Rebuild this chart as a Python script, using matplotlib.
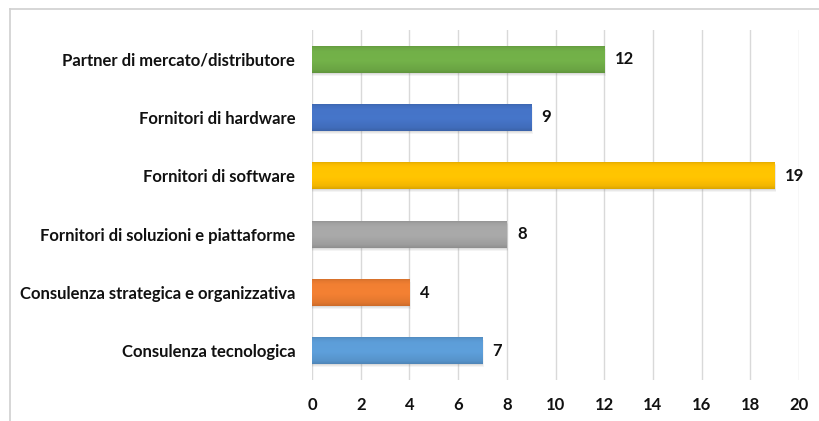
import matplotlib
matplotlib.use("Agg")
import matplotlib.pyplot as plt
import numpy as np
from matplotlib.colors import to_rgb

categories = [
    "Consulenza tecnologica",
    "Consulenza strategica e organizzativa",
    "Fornitori di soluzioni e piattaforme",
    "Fornitori di software",
    "Fornitori di hardware",
    "Partner di mercato/distributore",
]
values = [7, 4, 8, 19, 9, 12]
colors = ["#5B9BD5", "#ED7D31", "#A5A5A5", "#FFC000", "#4472C4", "#70AD47"]
x_ticks = [0, 2, 4, 6, 8, 10, 12, 14, 16, 18, 20]

plt.rcParams["font.family"] = ["Lato", "DejaVu Sans"]

fig = plt.figure(figsize=(8.19, 4.21), dpi=100)
ax = fig.add_axes([312 / 819, 41 / 421, 487 / 819, 350 / 421])

ypos = np.arange(len(categories))
bar_h = 0.46

# soft drop shadow under each bar
for y, v in zip(ypos, values):
    for k, a in [(0.05, 0.08), (0.035, 0.10), (0.02, 0.12)]:
        ax.barh(y - k, v + k * 1.2, height=bar_h, left=0, color="#7f7f7f",
                alpha=a, edgecolor="none", zorder=2)

bars = ax.barh(ypos, values, height=bar_h, color=colors, edgecolor="none", zorder=3)

# vertical shading inside each bar: row 0 is the bottom edge
t = np.linspace(0, 1, 80)[:, None]
profile = np.interp(t, [0.0, 0.12, 0.45, 0.8, 0.93, 1.0],
                    [0.86, 0.95, 1.03, 1.02, 0.97, 0.90])
for b, c in zip(bars, colors):
    base = np.array(to_rgb(c))
    img = np.clip(base[None, None, :] * profile[:, :, None], 0, 1)
    img = np.repeat(img, 2, axis=1)
    x0, y0 = b.get_x(), b.get_y()
    w, h = b.get_width(), b.get_height()
    im = ax.imshow(img, extent=[x0, x0 + w, y0, y0 + h], aspect="auto",
                   origin="lower", zorder=4, interpolation="bilinear")
    im.set_clip_path(b)

for y, v in zip(ypos, values):
    ax.text(v + 0.42, y, str(v), va="center", ha="left", fontsize=12,
            fontweight="bold", color="#111111", zorder=5)

ax.set_xlim(0, 20)
ax.set_ylim(-0.5, 5.5)
ax.set_xticks(x_ticks)
ax.set_xticklabels([str(t) for t in x_ticks], fontsize=12, fontweight="bold",
                   color="#111111")
ax.set_yticks(ypos)
ax.set_yticklabels(categories, fontsize=12, fontweight="bold", color="#111111")
ax.tick_params(axis="both", length=0)
ax.tick_params(axis="x", pad=12)
ax.tick_params(axis="y", pad=12)
ax.grid(axis="x", color="#D9D9D9", linewidth=1.0, zorder=0)
ax.set_axisbelow(True)
for s in ax.spines.values():
    s.set_visible(False)

# chart frame edges
fig.add_artist(plt.Line2D([10 / 819, 1], [1 - 8.5 / 421, 1 - 8.5 / 421],
                          transform=fig.transFigure, color="#D0D0D0", lw=1.2))
fig.add_artist(plt.Line2D([10 / 819, 10 / 819], [0, 1 - 8.5 / 421],
                          transform=fig.transFigure, color="#D0D0D0", lw=1.2))

fig.savefig("out.png", dpi=100)
